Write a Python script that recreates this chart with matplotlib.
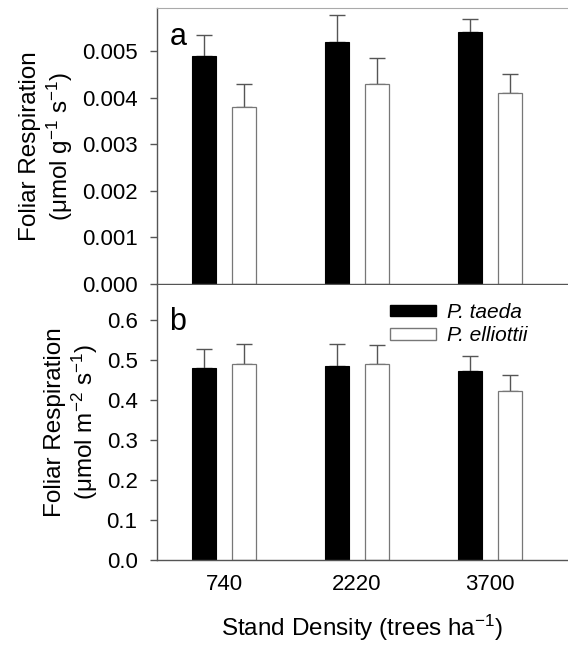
import matplotlib
matplotlib.use("Agg")
import matplotlib.pyplot as plt
import numpy as np
from matplotlib.patches import Patch

plt.rcParams['font.family'] = ['Liberation Sans', 'DejaVu Sans']
plt.rcParams['mathtext.fontset'] = 'custom'
plt.rcParams['mathtext.rm'] = 'Liberation Sans'
plt.rcParams['mathtext.it'] = 'Liberation Sans:italic'

# stand densities (trees/ha)
densities = ['740', '2220', '3700']
species = ['P. taeda', 'P. elliottii']

# panel a: mass-based respiration
resp_mass_taeda = [0.0049, 0.0052, 0.0054]
resp_mass_taeda_se = [0.00045, 0.00056, 0.00028]
resp_mass_elliottii = [0.0038, 0.0043, 0.0041]
resp_mass_elliottii_se = [0.0005, 0.00054, 0.0004]

# panel b: area-based respiration
resp_area_taeda = [0.48, 0.484, 0.472]
resp_area_taeda_se = [0.047, 0.055, 0.038]
resp_area_elliottii = [0.49, 0.49, 0.422]
resp_area_elliottii_se = [0.05, 0.047, 0.04]

W, H = 568, 651
fig = plt.figure(figsize=(W / 100, H / 100), dpi=100)

def px_axes(left, top, right, bottom):
    return fig.add_axes([left / W, 1 - bottom / H, (right - left) / W, (bottom - top) / H])

ax1 = px_axes(157, 8, 568, 284)
ax2 = px_axes(157, 285, 568, 560)

x = np.arange(len(densities))
bw = 0.18
off = 0.148
spine_col = '#555555'
tick_fs = 16
label_fs = 17.5

def draw(ax, v1, e1, v2, e2):
    ax.bar(x - off, v1, bw, color='black', edgecolor='black', linewidth=0.8, zorder=2)
    ax.bar(x + off, v2, bw, color='white', edgecolor='#777777', linewidth=0.9, zorder=2)
    ax.errorbar(x - off, v1, yerr=[np.zeros(3), e1], fmt='none', ecolor=spine_col,
                elinewidth=1.0, capsize=6, capthick=1.0, zorder=1)
    ax.errorbar(x + off, v2, yerr=[np.zeros(3), e2], fmt='none', ecolor=spine_col,
                elinewidth=1.0, capsize=6, capthick=1.0, zorder=1)
    ax.set_xlim(-0.504, 2.586)
    ax.spines['right'].set_visible(False)
    for s in ('left', 'bottom'):
        ax.spines[s].set_color(spine_col)
        ax.spines[s].set_linewidth(1.0)
    ax.tick_params(axis='y', direction='out', length=5, width=1.0, color=spine_col,
                   labelsize=tick_fs, pad=9)
    ax.tick_params(axis='x', length=0, labelsize=tick_fs, pad=10)

draw(ax1, resp_mass_taeda, resp_mass_taeda_se, resp_mass_elliottii, resp_mass_elliottii_se)
ax1.set_ylim(0, 0.00592)
ax1.set_yticks(np.arange(0, 0.0051, 0.001))
ax1.set_yticklabels(['%.3f' % v for v in np.arange(0, 0.0051, 0.001)])
ax1.set_xticks([])
ax1.spines['top'].set_color('#aaaaaa')
ax1.set_ylabel('Foliar Respiration\n(μmol g$^{-1}$ s$^{-1}$)', fontsize=label_fs, labelpad=5,
               linespacing=1.15)
ax1.text(0.03, 0.895, 'a', transform=ax1.transAxes, fontsize=22, va='center', ha='left')

draw(ax2, resp_area_taeda, resp_area_taeda_se, resp_area_elliottii, resp_area_elliottii_se)
ax2.set_ylim(0, 0.6875)
ax2.set_yticks(np.arange(0, 0.61, 0.1))
ax2.set_yticklabels(['%.1f' % v for v in np.arange(0, 0.61, 0.1)])
ax2.set_xticks(x)
ax2.set_xticklabels(densities)
ax2.spines['top'].set_visible(False)
ax2.set_ylabel('Foliar Respiration\n(μmol m$^{-2}$ s$^{-1}$)', fontsize=label_fs, labelpad=5,
               linespacing=1.15)
ax2.set_xlabel('Stand Density (trees ha$^{-1}$)', fontsize=label_fs, labelpad=13)
ax2.text(0.03, 0.865, 'b', transform=ax2.transAxes, fontsize=22, va='center', ha='left')

handles = [Patch(facecolor='black', edgecolor='black'),
           Patch(facecolor='white', edgecolor='#777777')]
leg = ax2.legend(handles, species, loc='upper left', bbox_to_anchor=(0.567, 0.935),
                 frameon=False, borderpad=0, borderaxespad=0,
                 handlelength=2.2, handleheight=0.5, handletextpad=0.55,
                 labelspacing=0.2, prop={'style': 'italic', 'size': 15})

fig.savefig('out.png', dpi=100)
